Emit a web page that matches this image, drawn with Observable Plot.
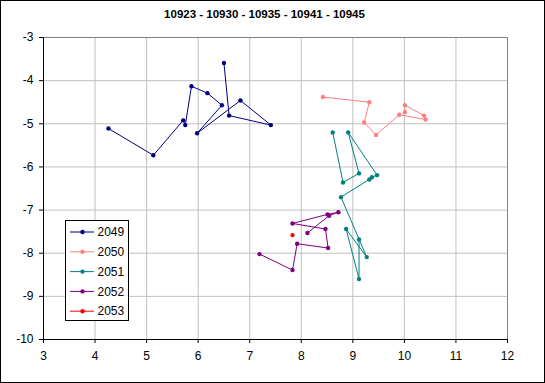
<!DOCTYPE html>
<html>
<head>
<meta charset="utf-8">
<script src="https://cdn.jsdelivr.net/npm/d3@7"></script>
<script src="https://cdn.jsdelivr.net/npm/@observablehq/plot@0.6"></script>
<style>
  html, body { margin: 0; padding: 0; background: #fff; }
  #wrap { position: relative; width: 545px; height: 383px; overflow: hidden; font-family: "Liberation Sans", Arial, sans-serif; }
  #wrap svg { position: absolute; left: 0; top: 0; }
  #legend { position: absolute; left: 65px; top: 220px; width: 62px; height: 99px; border: 1px solid #000; background: #fff; }
</style>
</head>
<body>
<div id="wrap"></div>
<script>
const chartTitle = "10923 - 10930 - 10935 - 10941 - 10945";
const seriesNames = ["2049", "2050", "2051", "2052", "2053"];
const xTicks = [3, 4, 5, 6, 7, 8, 9, 10, 11, 12];
const yTicks = [-3, -4, -5, -6, -7, -8, -9, -10];

const s2049x = [4.26, 5.13, 5.71, 5.75, 5.87, 6.18, 6.46, 5.98, 6.82, 7.41, 6.60, 6.50];
const s2049y = [-5.11, -5.73, -4.92, -5.03, -4.13, -4.29, -4.57, -5.22, -4.46, -5.03, -4.81, -3.59];

const s2050x = [8.42, 9.32, 9.22, 9.45, 9.90, 10.41, 10.38, 10.01, 10.01];
const s2050y = [-4.38, -4.50, -4.97, -5.26, -4.79, -4.90, -4.81, -4.57, -4.73];

const s2051x = [8.61, 8.81, 9.12, 8.91, 9.47, 9.37, 9.32, 8.77, 9.27, 8.87, 9.12, 9.12];
const s2051y = [-5.20, -6.36, -6.15, -5.20, -6.19, -6.24, -6.29, -6.70, -8.09, -7.44, -8.60, -7.68];

const s2052x = [7.19, 7.83, 7.92, 8.52, 8.47, 7.83, 8.51, 8.72, 8.54, 8.12];
const s2052y = [-8.02, -8.39, -7.78, -7.88, -7.44, -7.31, -7.10, -7.05, -7.13, -7.53];

const s2053x = [7.83];
const s2053y = [-7.58];

const seriesColors = ["#000080", "#ff8080", "#008080", "#800080", "#ff0000"];

const xs = [s2049x, s2050x, s2051x, s2052x, s2053x];
const ys = [s2049y, s2050y, s2051y, s2052y, s2053y];
const rows = [];
seriesNames.forEach((name, i) => {
  xs[i].forEach((xv, j) => rows.push({series: name, x: xv, y: ys[i][j]}));
});

const font = "'Liberation Sans', Arial, sans-serif";

const plot = Plot.plot({
  width: 545,
  height: 383,
  marginLeft: 43,
  marginRight: 38,
  marginTop: 37,
  marginBottom: 44,
  style: {fontFamily: font, fontSize: "12px", background: "#fff", color: "#000"},
  x: {domain: [3, 12], ticks: xTicks},
  y: {domain: [-10, -3], ticks: yTicks},
  color: {domain: seriesNames, range: seriesColors},
  marks: [
    Plot.gridX(xTicks, {stroke: "#c0c0c0", strokeOpacity: 1}),
    Plot.gridY(yTicks, {stroke: "#c0c0c0", strokeOpacity: 1}),
    Plot.frame({stroke: "#808080"}),
    Plot.axisX(xTicks, {tickSize: 4, tickPadding: 8, stroke: "#000", fontSize: 12, label: null}),
    Plot.axisY(yTicks, {tickSize: 4, tickPadding: 6, stroke: "#000", fontSize: 12, label: null, tickFormat: d => d < 0 ? "-" + Math.abs(d) : String(d)}),
    Plot.ruleX([3], {stroke: "#000"}),
    Plot.ruleY([-10], {stroke: "#000"}),
    Plot.line(rows, {x: "x", y: "y", z: "series", stroke: "series", strokeWidth: 1}),
    Plot.dot(rows, {x: "x", y: "y", fill: "series", r: 2.2, stroke: null}),
    Plot.text([chartTitle], {frameAnchor: "top", dx: -11, dy: -28, fontWeight: "bold", fontSize: 11.5, fill: "#000"})
  ]
});

const wrap = document.getElementById("wrap");
wrap.appendChild(plot);

// outer border
d3.select(plot).append("rect")
  .attr("x", 0.5).attr("y", 0.5).attr("width", 544).attr("height", 382)
  .attr("fill", "none").attr("stroke", "#000");

// legend
const legend = d3.select(wrap).append("div").attr("id", "legend");
const lsvg = legend.append("svg").attr("width", 62).attr("height", 99).style("position", "static");
seriesNames.forEach((name, i) => {
  const cy = 11 + i * 19.8;
  lsvg.append("line").attr("x1", 4).attr("x2", 28).attr("y1", cy).attr("y2", cy)
    .attr("stroke", seriesColors[i]).attr("stroke-width", 1);
  lsvg.append("circle").attr("cx", 16.5).attr("cy", cy).attr("r", 2.2).attr("fill", seriesColors[i]);
  lsvg.append("text").attr("x", 31.5).attr("y", cy + 4.2).attr("font-size", 12)
    .attr("font-family", font).attr("fill", "#000").text(name);
});
</script>
</body>
</html>
